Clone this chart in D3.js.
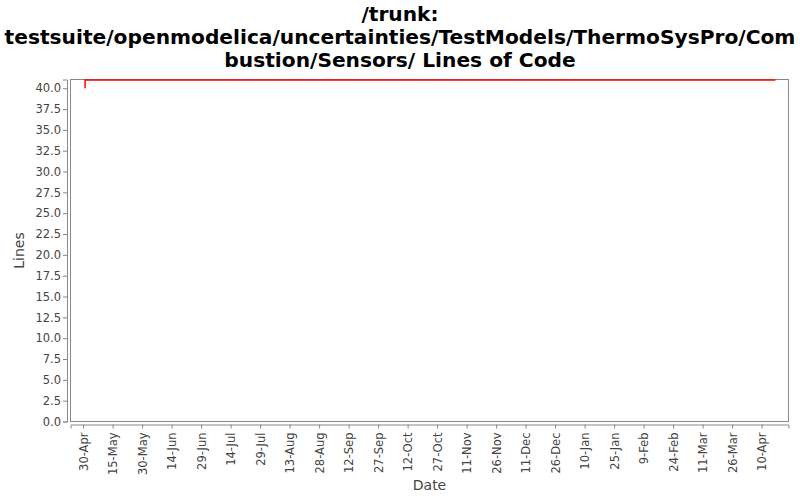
<!DOCTYPE html>
<html><head><meta charset="utf-8">
<script src="https://cdn.jsdelivr.net/npm/d3@7"></script>
<style>body{margin:0;background:#fff;} svg{display:block;}</style>
</head><body>
<svg id="c" width="800" height="500"></svg>
<script>
const titleLines = ["/trunk:", "testsuite/openmodelica/uncertainties/TestModels/ThermoSysPro/Com", "bustion/Sensors/ Lines of Code"];
const dates = ["2009-05-01T00:00", "2009-05-01T00:00", "2010-04-17T00:00"];
const lines = [40, 41, 41];
const yTicks = [0,2.5,5,7.5,10,12.5,15,17.5,20,22.5,25,27.5,30,32.5,35,37.5,40];
const xTickDates = ["2009-04-30","2009-05-15","2009-05-30","2009-06-14","2009-06-29","2009-07-14","2009-07-29","2009-08-13","2009-08-28","2009-09-12","2009-09-27","2009-10-12","2009-10-27","2009-11-11","2009-11-26","2009-12-11","2009-12-26","2010-01-10","2010-01-25","2010-02-09","2010-02-24","2010-03-11","2010-03-26","2010-04-10"];
const xDomain = ["2009-04-23T14:00", "2010-04-23T16:00"];
const yDomain = [0, 41.05];

const parse = d3.timeParse("%Y-%m-%dT%H:%M");
const parseD = d3.timeParse("%Y-%m-%d");
const svg = d3.select("#c");
const font = "DejaVu Sans, sans-serif";
const L = 70.5, R = 788.5, T = 79.5, B = 421.5;

const x = d3.scaleTime().domain(xDomain.map(parse)).range([L, R]);
const y = d3.scaleLinear().domain(yDomain).range([B, T]);

// title
const tt = svg.append("text").attr("text-anchor","middle").attr("font-family",font)
  .attr("font-weight","bold").attr("font-size",20.2).attr("fill","#000");
titleLines.forEach((t,i)=> tt.append("tspan").attr("x",400).attr("y",20.5+i*23).text(t));

// plot area
svg.append("rect").attr("x",L).attr("y",T).attr("width",R-L).attr("height",B-T)
  .attr("fill","#fff").attr("stroke","#888").attr("stroke-width",1);

// y axis
const ya = svg.append("g").attr("transform",`translate(${L-3.5},0)`)
  .call(d3.axisLeft(y).tickValues(yTicks).tickFormat(d3.format(".1f")).tickSizeOuter(0).tickSize(4).tickPadding(2));
ya.select(".domain").attr("stroke","#888");
ya.selectAll(".tick line").attr("stroke","#888");
ya.selectAll("text").attr("font-family",font).attr("font-size",11.5).attr("fill","#444");

// x axis
const xa = svg.append("g").attr("transform",`translate(0,${B+3})`)
  .call(d3.axisBottom(x).tickValues(xTickDates.map(parseD)).tickFormat(d3.timeFormat("%-d-%b")).tickSizeOuter(0).tickSize(4));
xa.select(".domain").attr("stroke","#888");
xa.selectAll(".tick line").attr("stroke","#888");
xa.selectAll("text").attr("font-family",font).attr("font-size",11.5).attr("fill","#444")
  .attr("text-anchor","end").attr("transform","rotate(-90)").attr("x",-8).attr("y",0).attr("dy","0.35em");

// axis labels
svg.append("text").attr("x",(L+R)/2).attr("y",490).attr("text-anchor","middle")
  .attr("font-family",font).attr("font-size",14).attr("fill","#444").text("Date");
svg.append("text").attr("transform",`translate(24,${(T+B)/2}) rotate(-90)`).attr("text-anchor","middle")
  .attr("font-family",font).attr("font-size",14).attr("fill","#444").text("Lines");

// line
const data = dates.map((d,i)=>({d:parse(d), v:lines[i]}));
svg.append("path").datum(data).attr("fill","none").attr("stroke","#f00").attr("stroke-width",1.5)
  .attr("d", d3.line().x(d=>x(d.d)).y(d=>y(d.v)));
</script>
</body></html>
